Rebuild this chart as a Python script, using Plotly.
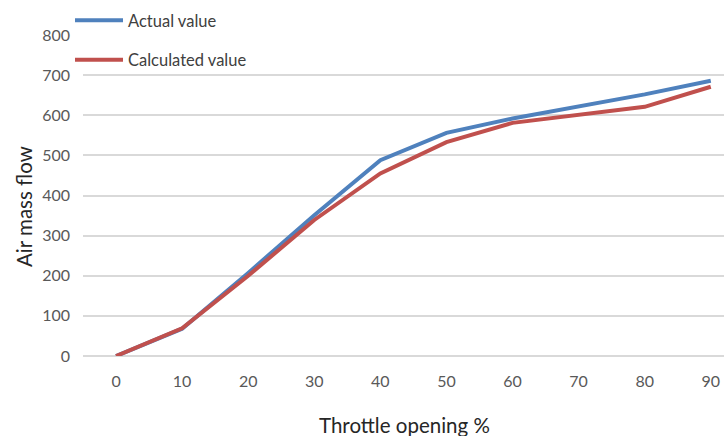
import plotly.graph_objects as go

# Throttle opening (%) and measured / modelled air mass flow
throttle = [0, 10, 20, 30, 40, 50, 60, 70, 80, 90]
actual_value = [0, 68, 207, 351, 488, 556, 592, 623, 652, 686]
calculated_value = [0, 69, 200, 339, 455, 533, 581, 600, 621, 671]

y_ticks = [0, 100, 200, 300, 400, 500, 600, 700, 800]

BLUE = "#4F81BD"
RED = "#C0504D"
FONT = "Lato, Carlito, 'Liberation Sans', sans-serif"

fig = go.Figure()
fig.add_trace(go.Scatter(
    x=throttle, y=actual_value, mode="lines", name="Actual value",
    line=dict(color=BLUE, width=4), legendgroup="actual",
))
fig.add_trace(go.Scatter(
    x=throttle, y=calculated_value, mode="lines", name="Calculated value",
    line=dict(color=RED, width=4), legendgroup="calculated",
))

fig.update_layout(
    width=724, height=436,
    margin=dict(l=83, r=0, t=35, b=80, autoexpand=False),
    paper_bgcolor="white", plot_bgcolor="white",
    font=dict(family=FONT, color="#595959"),
    showlegend=True,
    legend=dict(
        bgcolor="rgba(255,255,255,0)", borderwidth=0,
        font=dict(family=FONT, size=16.5, color="#404040"),
        itemwidth=48, xref="container", yref="container",
        x=70 / 724, y=1 - 3 / 436, xanchor="left", yanchor="top",
        traceorder="grouped", tracegroupgap=15,
    ),
    xaxis=dict(
        range=[-5, 92], tickmode="array", tickvals=throttle,
        ticktext=[str(v) for v in throttle],
        showgrid=False, zeroline=False, showline=False, ticks="",
        tickfont=dict(size=16, color="#595959"), ticklabelstandoff=14,
        ticklabeloverflow="allow",
    ),
    yaxis=dict(
        range=[0, 800], tickmode="array", tickvals=y_ticks,
        showgrid=True, gridcolor="#D9D9D9", gridwidth=1.5,
        zeroline=True, zerolinecolor="#D9D9D9", zerolinewidth=1.5,
        showline=False, ticks="",
        tickfont=dict(size=16, color="#595959"), ticklabelstandoff=12,
        ticklabeloverflow="allow",
    ),
    annotations=[
        dict(text="Throttle opening %", xref="paper", yref="paper",
             x=(404 - 83) / 641, y=-(425 - 356) / 321, showarrow=False,
             xanchor="center", yanchor="middle",
             font=dict(family=FONT, size=20.5, color="#262626")),
        dict(text="Air mass flow", xref="paper", yref="paper",
             x=-(83 - 24) / 641, y=(356 - 207) / 321, showarrow=False,
             xanchor="center", yanchor="middle", textangle=-90,
             font=dict(family=FONT, size=20.5, color="#262626")),
    ],
)

fig.write_html("out.html")
